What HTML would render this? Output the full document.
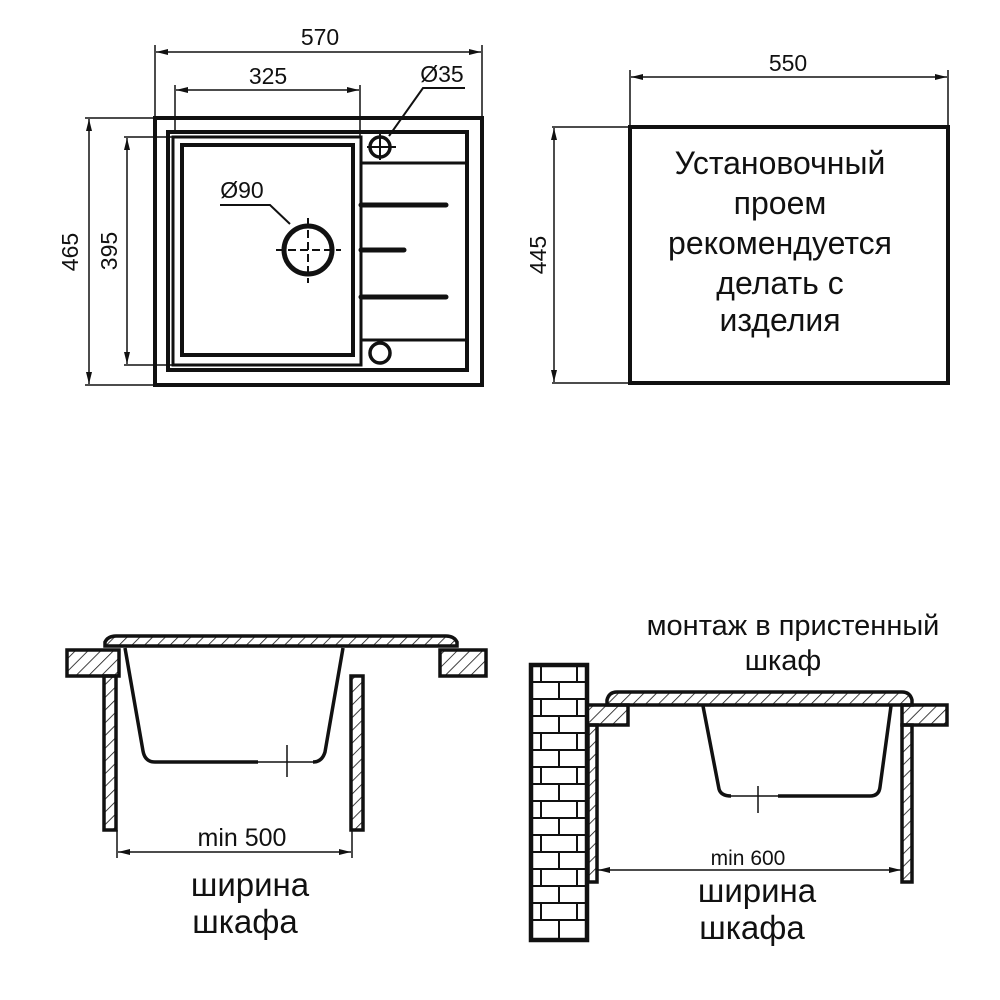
<!DOCTYPE html>
<html><head><meta charset="utf-8"><style>
html,body{margin:0;padding:0;background:#fff}
svg{display:block}
text{font-family:"Liberation Sans",Arial,sans-serif;fill:#111}
</style></head><body>
<svg width="1000" height="1000" viewBox="0 0 1000 1000" xmlns="http://www.w3.org/2000/svg">
<defs>
<marker id="a" viewBox="0 0 12 6" refX="12" refY="3" markerWidth="12" markerHeight="6" orient="auto-start-reverse" markerUnits="userSpaceOnUse"><path d="M0,0 L12,3 L0,6 Z" fill="#111"/></marker>
<pattern id="h" width="9" height="9" patternUnits="userSpaceOnUse" patternTransform="rotate(45)"><line x1="0" y1="0" x2="0" y2="9" stroke="#111" stroke-width="1.6"/></pattern>
</defs>
<g stroke="#111" fill="none">
<rect x="155" y="118" width="327" height="267" stroke-width="4"/>
<rect x="168" y="132" width="299" height="238" stroke-width="4"/>
<rect x="173" y="137" width="188" height="228" stroke-width="3"/>
<rect x="182" y="145" width="171" height="210" stroke-width="4"/>
<line x1="361" y1="163" x2="467" y2="163" stroke-width="3"/>
<line x1="361" y1="340" x2="467" y2="340" stroke-width="3"/>
<line x1="361" y1="205" x2="446" y2="205" stroke-width="5" stroke-linecap="round"/>
<line x1="361" y1="250" x2="404" y2="250" stroke-width="5" stroke-linecap="round"/>
<line x1="361" y1="297" x2="446" y2="297" stroke-width="5" stroke-linecap="round"/>
<circle cx="308" cy="250" r="24" stroke-width="5"/>
<line x1="276" y1="250" x2="341" y2="250" stroke-width="2" stroke-dasharray="8,4"/>
<line x1="308" y1="218" x2="308" y2="283" stroke-width="2" stroke-dasharray="8,4"/>
<circle cx="380" cy="147" r="10" stroke-width="3.5"/>
<line x1="367" y1="147" x2="396" y2="147" stroke-width="2"/>
<line x1="380" y1="134" x2="380" y2="160" stroke-width="2"/>
<circle cx="380" cy="353" r="10" stroke-width="3.5"/>
<g stroke-width="1.5">
<line x1="155" y1="45" x2="155" y2="118"/><line x1="482" y1="45" x2="482" y2="118"/>
<line x1="156" y1="52" x2="481" y2="52" marker-start="url(#a)" marker-end="url(#a)"/>
<line x1="175" y1="85" x2="175" y2="132"/><line x1="360" y1="85" x2="360" y2="137"/>
<line x1="176" y1="90" x2="359" y2="90" marker-start="url(#a)" marker-end="url(#a)"/>
<line x1="85" y1="118" x2="155" y2="118"/><line x1="85" y1="385" x2="155" y2="385"/>
<line x1="89" y1="119" x2="89" y2="384" marker-start="url(#a)" marker-end="url(#a)"/>
<line x1="124" y1="137" x2="173" y2="137"/><line x1="124" y1="365" x2="173" y2="365"/>
<line x1="127" y1="138" x2="127" y2="364" marker-start="url(#a)" marker-end="url(#a)"/>
<polyline points="465,88 423,88 389,136" stroke-width="2"/>
<polyline points="220,205 270,205 290,224" stroke-width="2"/>
</g>
<rect x="630" y="127" width="318" height="256" stroke-width="4"/>
<g stroke-width="1.5">
<line x1="630" y1="70" x2="630" y2="127"/><line x1="948" y1="70" x2="948" y2="127"/>
<line x1="631" y1="77" x2="947" y2="77" marker-start="url(#a)" marker-end="url(#a)"/>
<line x1="552" y1="127" x2="630" y2="127"/><line x1="552" y1="383" x2="630" y2="383"/>
<line x1="554" y1="128" x2="554" y2="382" marker-start="url(#a)" marker-end="url(#a)"/>
</g>
<path d="M105,646 L105,642 Q108,636 116,636 L446,636 Q454,636 457,642 L457,646 Z" fill="url(#h)" stroke-width="3.5"/>
<rect x="67" y="650" width="52" height="26" fill="url(#h)" stroke-width="3.5"/>
<rect x="440" y="650" width="46" height="26" fill="url(#h)" stroke-width="3.5"/>
<rect x="104" y="676" width="12" height="154" fill="url(#h)" stroke-width="3.5"/>
<rect x="351" y="676" width="12" height="154" fill="url(#h)" stroke-width="3.5"/>
<path d="M125,648 L143,751 Q145,762 155,762 L258,762" stroke-width="3.5"/>
<path d="M258,762 L313,762" stroke-width="1.5"/>
<path d="M313,762 Q322,762 325,752 L343,648" stroke-width="3.5"/>
<line x1="287" y1="745" x2="287" y2="777" stroke-width="1.5"/>
<g stroke-width="1.5">
<line x1="117" y1="830" x2="117" y2="858"/><line x1="352" y1="830" x2="352" y2="858"/>
<line x1="118" y1="852" x2="351" y2="852" marker-start="url(#a)" marker-end="url(#a)"/>
</g>
<rect x="531" y="665" width="56" height="275" stroke-width="4.5"/>
<g stroke-width="2">
<line x1="531" y1="682" x2="587" y2="682"/><line x1="531" y1="699" x2="587" y2="699"/><line x1="531" y1="716" x2="587" y2="716"/><line x1="531" y1="733" x2="587" y2="733"/><line x1="531" y1="750" x2="587" y2="750"/><line x1="531" y1="767" x2="587" y2="767"/><line x1="531" y1="784" x2="587" y2="784"/><line x1="531" y1="801" x2="587" y2="801"/><line x1="531" y1="818" x2="587" y2="818"/><line x1="531" y1="835" x2="587" y2="835"/><line x1="531" y1="852" x2="587" y2="852"/><line x1="531" y1="869" x2="587" y2="869"/><line x1="531" y1="886" x2="587" y2="886"/><line x1="531" y1="903" x2="587" y2="903"/><line x1="531" y1="920" x2="587" y2="920"/>
<line x1="541" y1="665" x2="541" y2="682"/><line x1="577" y1="665" x2="577" y2="682"/>
<line x1="559" y1="682" x2="559" y2="699"/>
<line x1="541" y1="699" x2="541" y2="716"/><line x1="577" y1="699" x2="577" y2="716"/>
<line x1="559" y1="716" x2="559" y2="733"/>
<line x1="541" y1="733" x2="541" y2="750"/><line x1="577" y1="733" x2="577" y2="750"/>
<line x1="559" y1="750" x2="559" y2="767"/>
<line x1="541" y1="767" x2="541" y2="784"/><line x1="577" y1="767" x2="577" y2="784"/>
<line x1="559" y1="784" x2="559" y2="801"/>
<line x1="541" y1="801" x2="541" y2="818"/><line x1="577" y1="801" x2="577" y2="818"/>
<line x1="559" y1="818" x2="559" y2="835"/>
<line x1="541" y1="835" x2="541" y2="852"/><line x1="577" y1="835" x2="577" y2="852"/>
<line x1="559" y1="852" x2="559" y2="869"/>
<line x1="541" y1="869" x2="541" y2="886"/><line x1="577" y1="869" x2="577" y2="886"/>
<line x1="559" y1="886" x2="559" y2="903"/>
<line x1="541" y1="903" x2="541" y2="920"/><line x1="577" y1="903" x2="577" y2="920"/>
<line x1="559" y1="920" x2="559" y2="940"/>
</g>
<path d="M607,705 L607,700 Q609,692 617,692 L902,692 Q910,692 912,700 L912,705 Z" fill="url(#h)" stroke-width="3.5"/>
<rect x="587" y="705" width="41" height="20" fill="url(#h)" stroke-width="3.5"/>
<rect x="902" y="705" width="45" height="20" fill="url(#h)" stroke-width="3.5"/>
<rect x="588" y="725" width="9" height="157" fill="url(#h)" stroke-width="3.5"/>
<rect x="902" y="725" width="10" height="157" fill="url(#h)" stroke-width="3.5"/>
<path d="M703,706 L719,789 Q721,796 731,796" stroke-width="3.5"/>
<path d="M731,796 L778,796" stroke-width="1.5"/>
<path d="M778,796 L870,796 Q879,796 880,787 L891,706" stroke-width="3.5"/>
<line x1="758" y1="786" x2="758" y2="813" stroke-width="1.5"/>
<line x1="598" y1="870" x2="901" y2="870" stroke-width="1.5" marker-start="url(#a)" marker-end="url(#a)"/>
</g>
<g font-size="23" text-anchor="middle">
<text x="320" y="45">570</text>
<text x="268" y="84">325</text>
<text x="442" y="82">Ø35</text>
<text x="242" y="198">Ø90</text>
<text x="788" y="71">550</text>
<text transform="translate(78,252) rotate(-90)">465</text>
<text transform="translate(117,251) rotate(-90)">395</text>
<text transform="translate(546,255) rotate(-90)">445</text>
</g>
<text x="242" y="846" font-size="25" text-anchor="middle">min 500</text>
<g font-size="32" text-anchor="middle">
<text x="780" y="174">Установочный</text>
<text x="780" y="214">проем</text>
<text x="780" y="254">рекомендуется</text>
<text x="780" y="294">делать с</text>
<text x="780" y="331">изделия</text>
</g>
<g font-size="33" text-anchor="middle">
<text x="250" y="896">ширина</text>
<text x="245" y="933">шкафа</text>
<text x="757" y="902">ширина</text>
<text x="752" y="939">шкафа</text>
</g>
<g font-size="29" text-anchor="middle">
<text x="793" y="635">монтаж в пристенный</text>
<text x="783" y="670">шкаф</text>
</g>
<text x="748" y="865" font-size="21" text-anchor="middle">min 600</text>
</svg>
</body></html>
